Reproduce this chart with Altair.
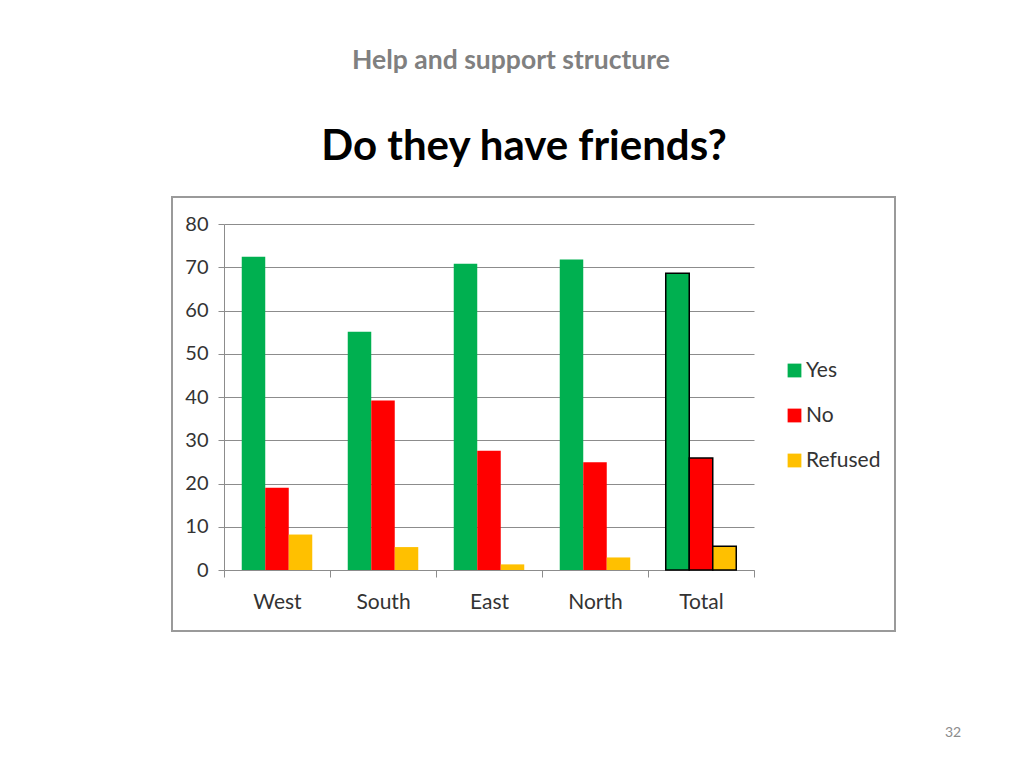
import altair as alt
import pandas as pd

regions = ["West", "South", "East", "North", "Total"]
answers = ["Yes", "No", "Refused"]
yes_vals = [72.4, 55.1, 70.8, 71.8, 68.6]
no_vals = [19.0, 39.2, 27.6, 24.9, 25.9]
refused_vals = [8.2, 5.3, 1.3, 2.9, 5.5]
colors = ["#00B050", "#FF0000", "#FFC000"]
y_ticks = [0, 10, 20, 30, 40, 50, 60, 70, 80]

rows = []
for i, r in enumerate(regions):
    for a, vals in zip(answers, [yes_vals, no_vals, refused_vals]):
        rows.append({"Region": r, "Answer": a, "Value": vals[i]})
df = pd.DataFrame(rows)

FONT = "Lato"
W, H = 530, 346

bars = alt.Chart(df).mark_bar(strokeWidth=1.5).encode(
    x=alt.X("Region:N", sort=regions,
            scale=alt.Scale(paddingInner=0, paddingOuter=0),
            axis=alt.Axis(title=None, labelAngle=0, tickBand="extent",
                          labelFontSize=21, labelColor="#333333", labelFont=FONT,
                          domainColor="#8c8c8c", tickColor="#8c8c8c",
                          tickSize=7, labelPadding=14)),
    xOffset=alt.XOffset("Answer:N", sort=answers,
                        scale=alt.Scale(paddingInner=0, paddingOuter=0.755)),
    y=alt.Y("Value:Q", scale=alt.Scale(domain=[0, 80], nice=False),
            axis=alt.Axis(title=None, values=y_ticks, labelFontSize=20,
                          labelColor="#333333", labelFont=FONT,
                          gridColor="#8c8c8c", gridWidth=1,
                          domainColor="#8c8c8c", tickColor="#8c8c8c",
                          tickSize=6, labelPadding=10)),
    color=alt.Color("Answer:N", sort=answers,
                    scale=alt.Scale(domain=answers, range=colors),
                    legend=alt.Legend(title=None, orient="none",
                                      legendX=560, legendY=136,
                                      symbolType="square", symbolSize=190,
                                      symbolStrokeWidth=0,
                                      labelFontSize=21, labelFont=FONT,
                                      labelColor="#333333", rowPadding=23,
                                      labelOffset=1)),
    stroke=alt.condition(alt.datum.Region == "Total",
                         alt.value("#000000"), alt.value(None)),
)

frame = alt.Chart(pd.DataFrame({"k": [0]})).mark_rect(
    fill=None, stroke="#9a9a9a", strokeWidth=2
).encode(x=alt.value(-52), x2=alt.value(671), y=alt.value(-27), y2=alt.value(407))

texts = pd.DataFrame({
    "t": ["Help and support structure", "Do they have friends?", "32"],
})

header = alt.Chart(texts.iloc[[0]]).mark_text(
    font=FONT, fontSize=26.5, fontWeight="bold", color="#808080", baseline="middle"
).encode(text="t:N", x=alt.value(287), y=alt.value(-163))

title = alt.Chart(texts.iloc[[1]]).mark_text(
    font=FONT, fontSize=42, fontWeight="bold", color="#000000", baseline="middle"
).encode(text="t:N", x=alt.value(300), y=alt.value(-77))

page = alt.Chart(texts.iloc[[2]]).mark_text(
    font=FONT, fontSize=14, color="#8c8c8c", baseline="middle"
).encode(text="t:N", x=alt.value(729), y=alt.value(509))

chart = alt.layer(frame, bars, header, title, page).properties(
    width=W, height=H,
    autosize=alt.AutoSizeParams(type="none"),
    padding={"left": 216, "top": 216, "right": 255, "bottom": 185},
    background="white",
).configure_view(stroke=None)

chart.save("out.html", embed_options={"renderer": "svg", "actions": False})
